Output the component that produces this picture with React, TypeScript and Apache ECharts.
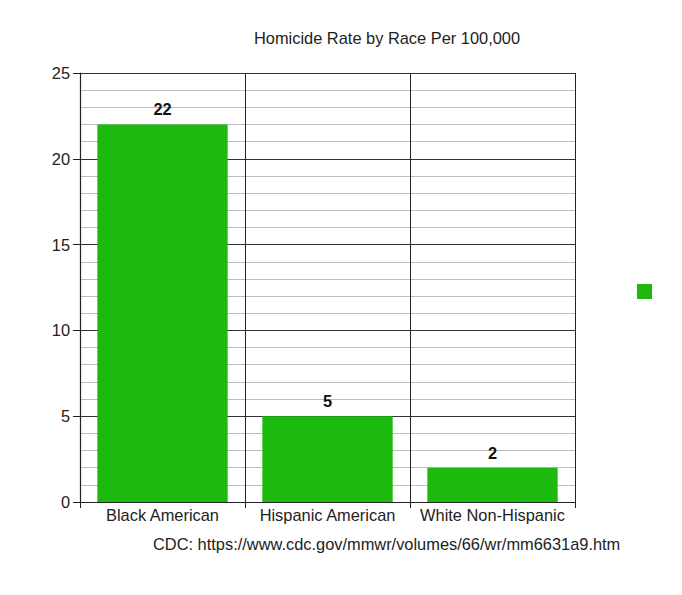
import React, { useEffect, useRef } from "react";
import * as echarts from "echarts";

const categories = ["Black American", "Hispanic American", "White Non-Hispanic"];
const rates = [22, 5, 2];
const yTicks = [0, 5, 10, 15, 20, 25];
const titleText = "Homicide Rate by Race Per 100,000";
const sourceText = "CDC: https://www.cdc.gov/mmwr/volumes/66/wr/mm6631a9.htm";

const GREEN = "#1cb90f";
const FONT = "'Liberation Sans', Arial, Helvetica, sans-serif";
const FS = 16.4;

export default function App() {
  const ref = useRef<HTMLDivElement>(null);
  useEffect(() => {
    if (!ref.current) return;
    const chart = echarts.init(ref.current, undefined, { renderer: "svg" });
    chart.setOption({
      animation: false,
      backgroundColor: "#ffffff",
      textStyle: { fontFamily: FONT },
      title: {
        text: titleText,
        left: 249,
        top: 25,
        textStyle: { fontSize: FS, fontWeight: "normal", color: "#222", fontFamily: FONT },
      },
      legend: {
        data: [{ name: "Rate", icon: "rect" }],
        left: 632,
        top: 279,
        itemWidth: 15,
        itemHeight: 15,
        formatter: () => "",
        selectedMode: false,
      },
      grid: { left: 80, right: 107, top: 73, bottom: 93, containLabel: false },
      xAxis: {
        type: "category",
        data: categories,
        boundaryGap: true,
        axisLine: { show: true, lineStyle: { color: "#222", width: 1.2 } },
        axisTick: { show: true, interval: 0, length: 6, lineStyle: { color: "#222" } },
        axisLabel: { interval: 0, fontSize: FS, color: "#222", margin: 5, fontFamily: FONT },
        splitLine: { show: true, interval: 0, lineStyle: { color: "#222", width: 1 } },
      },
      yAxis: {
        type: "value",
        min: yTicks[0],
        max: yTicks[yTicks.length - 1],
        interval: 5,
        axisLine: { show: true, lineStyle: { color: "#222", width: 1.2 } },
        axisTick: { show: true, length: 7, lineStyle: { color: "#222" } },
        axisLabel: { fontSize: FS, color: "#222", margin: 10, fontFamily: FONT },
        splitLine: { show: true, lineStyle: { color: "#333", width: 1 } },
        minorTick: { show: false, splitNumber: 5 },
        minorSplitLine: { show: true, lineStyle: { color: "#bdbdbd", width: 1 } },
      },
      series: [
        {
          name: "Rate",
          type: "bar",
          data: rates,
          barCategoryGap: "21%",
          itemStyle: { color: GREEN },
          label: {
            show: true,
            position: "top",
            distance: 7,
            fontSize: FS,
            fontWeight: "bold",
            color: "#111",
            fontFamily: FONT,
          },
        },
      ],
      graphic: [
        {
          type: "text",
          left: 153,
          top: 536,
          style: { text: sourceText, fontSize: FS, fill: "#222", fontFamily: FONT },
        },
      ],
    });
    return () => chart.dispose();
  }, []);
  return <div ref={ref} style={{ width: 682, height: 595, position: "absolute", left: 0, top: 0 }} />;
}
